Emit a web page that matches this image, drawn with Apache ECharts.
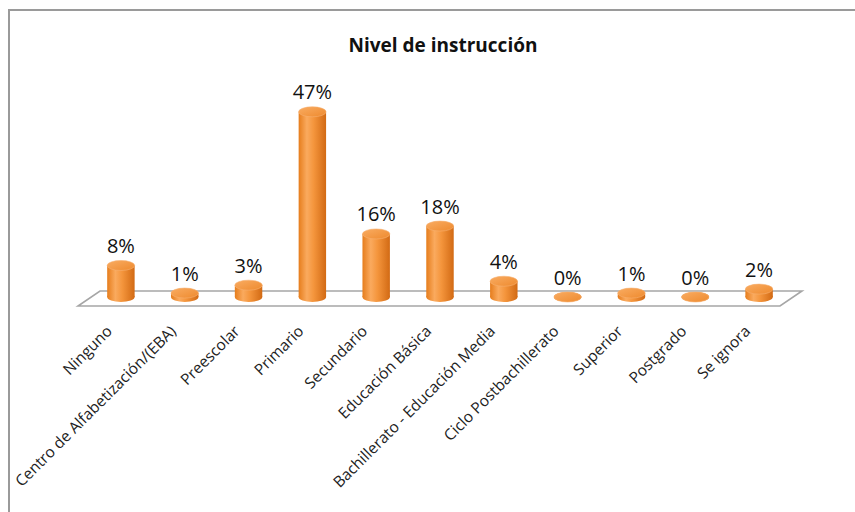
<!DOCTYPE html>
<html>
<head>
<meta charset="utf-8">
<script src="https://cdn.jsdelivr.net/npm/echarts@6/dist/echarts.min.js"></script>
<style>
html,body{margin:0;padding:0;background:#fff;}
#chart{width:855px;height:512px;}
</style>
</head>
<body>
<div id="chart"></div>
<script>
const categories = ['Ninguno','Centro de Alfabetización/(EBA)','Preescolar','Primario','Secundario','Educación Básica','Bachillerato - Educación Media','Ciclo Postbachillerato','Superior','Postgrado','Se ignora'];
const values = [8, 1, 3, 47, 16, 18, 4, 0, 1, 0, 2];
const titleText = 'Nivel de instrucción';

const chart = echarts.init(document.getElementById('chart'), null, {renderer:'svg'});

function ellipsePath(cx, cy, rx, ry){
  return 'M' + (cx-rx) + ' ' + cy +
    ' A' + rx + ' ' + ry + ' 0 1 0 ' + (cx+rx) + ' ' + cy +
    ' A' + rx + ' ' + ry + ' 0 1 0 ' + (cx-rx) + ' ' + cy + ' Z';
}
function bodyGrad(){
  return new echarts.graphic.LinearGradient(0,0,1,0,[
    {offset:0, color:'#E67D1C'},
    {offset:0.3, color:'#FAAA5E'},
    {offset:0.55, color:'#F4953C'},
    {offset:1, color:'#D26A14'}
  ]);
}

function renderBar(params, api){
  const idx = api.value(0), v = api.value(1);
  const base = api.coord([idx, 0]);
  const top = api.coord([idx, v]);
  const band = api.size([1, 0])[0];
  const rx = band * 0.215;
  const ry = 5;
  const cx = base[0];
  return {
    type:'group',
    children:[
      {type:'path', shape:{pathData: ellipsePath(cx, base[1], rx, ry)}, style:{fill: bodyGrad()}},
      {type:'rect', shape:{x: cx-rx, y: top[1], width: rx*2, height: Math.max(0, base[1]-top[1])}, style:{fill: bodyGrad()}},
      {type:'path', shape:{pathData: ellipsePath(cx, top[1], rx, ry)}, style:{fill: new echarts.graphic.LinearGradient(0,0,1,1,[{offset:0,color:'#F9AC62'},{offset:1,color:'#EE8A2E'}]), stroke:'#F6B070', lineWidth:0.6}},
      {type:'text', x: cx, y: top[1]-20, style:{text: v + '%', align:'center', verticalAlign:'middle', fill:'#111', font:'20px "Open Sans", sans-serif'}}
    ]
  };
}

function renderFloor(params, api){
  const band = api.size([1, 0])[0];
  const first = api.coord([0, 0]);
  const last = api.coord([categories.length-1, 0]);
  const left = first[0] - band/2, right = last[0] + band/2;
  const y = first[1];
  const pts = [[left-11, y+9],[right-11, y+9],[right+11, y-6],[left+11, y-6]];
  return {type:'polygon', shape:{points: pts}, style:{fill:'#ffffff', stroke:'#A6A6A6', lineWidth:1.6}};
}

chart.setOption({
  backgroundColor:'#ffffff',
  animation:false,
  title:{text:titleText, left:438, top:30, textAlign:'center', textStyle:{fontFamily:'Open Sans', fontWeight:'bold', fontSize:19, color:'#111'}},
  grid:{left:89, right:64, top:100, bottom:215},
  xAxis:{type:'category', data:categories, axisLine:{show:false}, axisTick:{show:false},
    axisLabel:{interval:0, rotate:45, margin:19, padding:[0,17,0,0], fontFamily:'Open Sans', fontSize:15.5, color:'#222'}},
  yAxis:{type:'value', min:0, max:50, show:false, splitLine:{show:false}},
  graphic:[{type:'polyline', shape:{points:[[9,512],[9,10],[855,10]]}, style:{stroke:'#9a9a9a', lineWidth:2, fill:null}, silent:true}],
  series:[
    {type:'custom', renderItem:renderFloor, data:[[0,0]], z:1, silent:true},
    {type:'custom', renderItem:renderBar, data: values.map((v,i)=>[i,v]), z:2, encode:{x:0,y:1}}
  ]
});
</script>
</body>
</html>
